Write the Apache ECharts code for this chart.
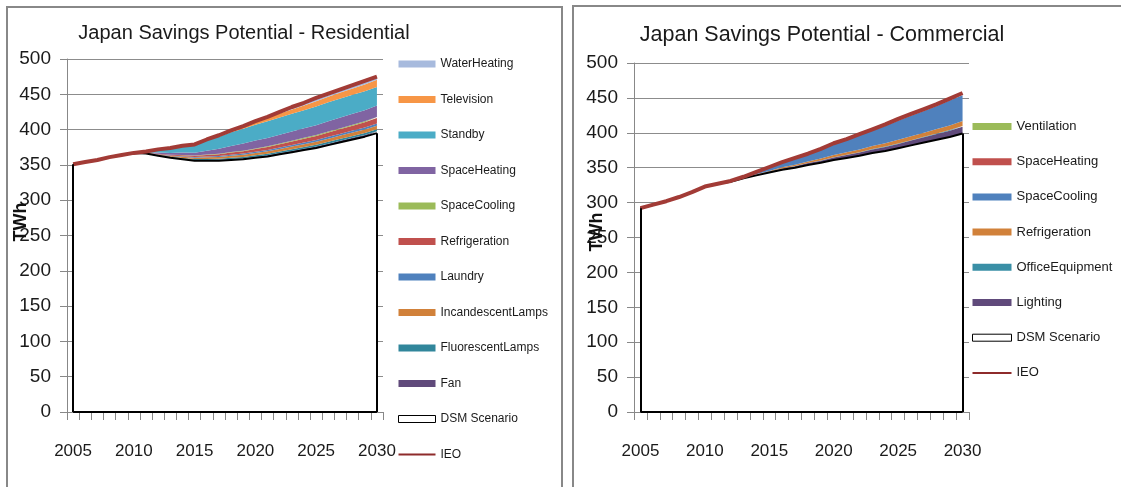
<!DOCTYPE html>
<html>
<head>
<meta charset="utf-8">
<script src="https://cdn.jsdelivr.net/npm/echarts/dist/echarts.min.js"></script>
<style>
	html,body{margin:0;padding:0;background:#fff;}
	.leftpanel{position:absolute;left:0;top:0;width:567px;height:487px;}
	.rightpanel{position:absolute;left:567px;top:0;width:554px;height:487px;}
</style>
</head>
<body>
<div id="reschart" class="leftpanel"></div>
<div id="comchart" class="rightpanel"></div>
<script>
	var years = ['2005','2006','2007','2008','2009','2010','2011','2012','2013','2014','2015','2016','2017',
		'2018','2019','2020','2021','2022','2023','2024','2025','2026','2027','2028','2029','2030'];

	// residential
	var resIEO = [351,354,357,361,364,367,369,372,374,377,379,386,392,399,405,412,418,425,432,438,445,451,457,463,469,475];
	var resDSM = [351,354,357,361,364,367,366,363,360,358,356,356,356,357,358,360,362,365,368,371,374,378,382,386,390,395];
	var resFan = [0,0,0,0,0,0,0.2,0.5,0.7,0.9,1.0,1.1,1.2,1.3,1.4,1.5,1.6,1.7,1.8,1.9,2.0,2.1,2.2,2.3,2.4,2.5];
	var resFluorescent = [0,0,0,0,0,0,0.2,0.5,0.8,1.0,1.2,1.4,1.5,1.7,1.8,2.0,2.1,2.2,2.3,2.4,2.5,2.6,2.7,2.8,2.9,3.0];
	var resIncandescent = [0,0,0,0,0,0,0.3,0.8,1.2,1.6,2.0,2.3,2.6,2.9,3.1,3.3,3.5,3.7,3.9,4.1,4.3,4.5,4.6,4.8,4.9,5.0];
	var resLaundry = [0,0,0,0,0,0,0.1,0.3,0.5,0.7,0.9,1.1,1.3,1.5,1.7,1.9,2.0,2.1,2.2,2.3,2.4,2.5,2.6,2.7,2.8,3.0];
	var resRefrigeration = [0,0,0,0,0,0,0.2,0.6,1.0,1.4,1.8,2.2,2.6,3.0,3.4,3.8,4.2,4.6,5.0,5.4,5.8,6.2,6.6,7.0,7.4,8.0];
	var resSpaceCooling = [0,0,0,0,0,0,0.1,0.2,0.3,0.4,0.4,0.5,0.6,0.7,0.8,0.9,1.0,1.0,1.1,1.2,1.2,1.3,1.3,1.4,1.4,1.5];
	var resSpaceHeating = [0,0,0,0,0,0,0.5,1.5,2.5,3.5,4.0,5.5,7.0,8.5,10.0,11.0,11.8,12.4,13.0,13.5,14.0,14.5,15.0,15.3,15.6,16.0];
	var resStandby = [0,0,0,0,0,0,1.4,4.6,7.0,9.5,11.5,14.5,17.0,19.5,21.0,22.5,23.5,24.5,25.0,25.5,26.5,27.0,27.0,27.0,27.0,26.5];
	var resTelevision = [0,0,0,0,0,0,0,0,0,0,0.4,1.2,2.0,2.8,3.5,4.3,5.0,5.6,6.2,6.8,7.4,8.0,8.5,9.0,9.5,10.0];
	var resWaterHeating = [0,0,0,0,0,0,0,0,0,0,0.2,0.4,0.8,1.2,1.6,2.0,2.2,2.5,2.8,3.0,3.2,3.5,3.8,4.1,4.4,4.6];

	// commercial
	var comIEO = [292,297,302,308,315,323,327,331,337,344,351,358,364,370,377,385,391,398,405,412,420,427,434,441,449,457];
	var comDSM = [292,297,302,308,315,323,327,330,335,339,343,347,350,354,357,361,364,367,371,374,378,382,386,390,394,399];
	var comLighting = [0,0,0,0,0,0,0,0.2,0.3,0.8,1.3,1.8,2.2,2.6,3.1,3.6,4.1,4.6,5.1,5.6,6.1,6.8,7.5,8.2,9.0,9.8];
	var comOffice = [0,0,0,0,0,0,0,0,0.05,0.1,0.15,0.2,0.25,0.3,0.35,0.4,0.45,0.5,0.55,0.6,0.65,0.7,0.75,0.8,0.9,1.0];
	var comRefrigeration = [0,0,0,0,0,0,0,0.1,0.3,0.7,1.0,1.5,1.8,2.1,2.6,3.1,3.5,4.0,4.4,4.8,5.3,5.6,6.0,6.3,6.7,7.0];
	var comSpaceCooling = [0,0,0,0,0,0,0,0.6,1.5,3.1,5.1,7.0,9.1,10.4,13.0,15.4,17.3,20.0,22.0,24.8,27.3,29.3,31.0,33.0,35.5,37.0];
	var comSpaceHeating = [0,0,0,0,0,0,0,0,0.05,0.1,0.15,0.2,0.25,0.3,0.35,0.4,0.45,0.5,0.6,0.7,0.8,0.9,1.0,1.1,1.2,1.3];
	var comVentilation = [0,0,0,0,0,0,0,0.1,0.1,0.2,0.3,0.3,0.4,0.5,0.6,0.7,0.8,0.9,1.0,1.1,1.2,1.3,1.5,1.6,1.7,1.9];

	var fontname = '"Liberation Sans", Arial, sans-serif';
	var ieocolor = '#A23B36';

	function makeoption(cfg){
		var series = [];
		var legenddata = [];
		// DSM scenario: white area with black outline
		series.push({
			name:'DSM Scenario', type:'line', stack:'total', data:cfg.dsm, symbol:'none',
			lineStyle:{color:'#000', width:2}, areaStyle:{color:'#fff', opacity:1},
			itemStyle:{color:'#fff'}, z:2,
			markLine:{
				silent:true, symbol:['none','none'], label:{show:false},
				lineStyle:{color:'#000', width:2, type:'solid'},
				data:[
					[{coord:[years[0],0]},{coord:[years[0],cfg.dsm[0]]}],
					[{coord:[years[years.length-1],0]},{coord:[years[years.length-1],cfg.dsm[cfg.dsm.length-1]]}],
					[{coord:[years[0],0]},{coord:[years[years.length-1],0]}]
				]
			}
		});
		for(var i=0;i<cfg.layers.length;i++){
			var l = cfg.layers[i];
			series.push({
				name:l.name, type:'line', stack:'total', data:l.data, symbol:'none',
				lineStyle:{width:0}, areaStyle:{color:l.color, opacity:1},
				itemStyle:{color:l.color}, z:2
			});
		}
		series.push({
			name:'IEO', type:'line', data:cfg.ieo, symbol:'none',
			lineStyle:{color:ieocolor, width:4}, itemStyle:{color:ieocolor}, z:3
		});
		for(var j=cfg.layers.length-1;j>=0;j--){
			legenddata.push({name:cfg.layers[j].name, itemStyle:{color:cfg.layers[j].color}});
		}
		legenddata.push({name:'DSM Scenario', itemStyle:{color:'#fff', borderColor:'#000', borderWidth:1}});
		legenddata.push({name:'IEO', icon:'path://M0,0L40,0L40,2L0,2Z', itemStyle:{color:'#8E2B2B'}});

		return {
			animation:false,
			backgroundColor:'#fff',
			grid:{left:cfg.grid[0], top:cfg.grid[1], width:cfg.grid[2], height:cfg.grid[3], outerBoundsMode:'none'},
			legend:{
				orient:'vertical', left:cfg.legendpos[0], top:cfg.legendpos[1], padding:0,
				itemWidth:cfg.iconw, itemHeight:7, itemGap:cfg.legendgap, icon:'rect',
				selectedMode:false,
				textStyle:{fontFamily:fontname, fontSize:cfg.legendfont, color:'#1a1a1a'},
				data:legenddata
			},
			xAxis:{
				type:'category', data:years, boundaryGap:true,
				axisLine:{show:true, lineStyle:{color:'#888', width:1}},
				axisTick:{show:true, interval:0, length:8, lineStyle:{color:'#888'}},
				axisLabel:{interval:4, margin:31, fontFamily:fontname, fontSize:cfg.xfont, color:'#1a1a1a'},
				splitLine:{show:false}
			},
			yAxis:{
				type:'value', min:0, max:500, interval:50,
				axisLine:{show:true, lineStyle:{color:'#888', width:1}},
				axisTick:{show:true, length:7, lineStyle:{color:'#888'}},
				axisLabel:{margin:16, fontFamily:fontname, fontSize:cfg.yfont, color:'#1a1a1a'},
				splitLine:{show:true, lineStyle:{color:'#8c8c8c', width:1}}
			},
			graphic:[
				{type:'polyline', shape:{points:cfg.border}, style:{stroke:'#888', lineWidth:2, fill:null}, z:10},
				{type:'text', x:cfg.title[0], y:cfg.title[1], z:10,
					style:{text:cfg.title[2], align:'center', verticalAlign:'middle',
						font:'normal ' + cfg.title[3] + 'px ' + fontname, fill:'#1a1a1a'}},
				{type:'text', x:cfg.unit[0], y:cfg.unit[1], rotation:Math.PI/2, z:10,
					style:{text:'TWh', align:'center', verticalAlign:'middle',
						font:'bold 18px ' + fontname, fill:'#111'}}
			],
			series:series
		};
	}

	var resoption = makeoption({
		dsm:resDSM, ieo:resIEO,
		layers:[
			{name:'Fan', data:resFan, color:'#604A7B'},
			{name:'FluorescentLamps', data:resFluorescent, color:'#31869B'},
			{name:'IncandescentLamps', data:resIncandescent, color:'#D1813A'},
			{name:'Laundry', data:resLaundry, color:'#4F81BD'},
			{name:'Refrigeration', data:resRefrigeration, color:'#C0504D'},
			{name:'SpaceCooling', data:resSpaceCooling, color:'#9BBB59'},
			{name:'SpaceHeating', data:resSpaceHeating, color:'#8064A2'},
			{name:'Standby', data:resStandby, color:'#4BACC6'},
			{name:'Television', data:resTelevision, color:'#F79646'},
			{name:'WaterHeating', data:resWaterHeating, color:'#A7BADD'}
		],
		grid:[67,59,316,353],
		legendpos:[398,58], iconw:37, legendgap:23.5, legendfont:12,
		xfont:17, yfont:19,
		border:[[7,487],[7,7],[562,7],[562,487]],
		title:[244,33,'Japan Savings Potential - Residential',20],
		unit:[21,222]
	});

	var comoption = makeoption({
		dsm:comDSM, ieo:comIEO,
		layers:[
			{name:'Lighting', data:comLighting, color:'#604A7B'},
			{name:'OfficeEquipment', data:comOffice, color:'#3A8FA6'},
			{name:'Refrigeration', data:comRefrigeration, color:'#D1813A'},
			{name:'SpaceCooling', data:comSpaceCooling, color:'#4F81BD'},
			{name:'SpaceHeating', data:comSpaceHeating, color:'#C0504D'},
			{name:'Ventilation', data:comVentilation, color:'#9BBB59'}
		],
		grid:[67,63,335,349],
		legendpos:[405,120], iconw:39, legendgap:22.2, legendfont:13,
		xfont:17, yfont:19,
		border:[[6,487],[6,6],[554,6]],
		title:[255,35,'Japan Savings Potential - Commercial',21.5],
		unit:[30,232]
	});

	var reschart = echarts.init(document.getElementById('reschart'));
	reschart.setOption(resoption);
	var comchart = echarts.init(document.getElementById('comchart'));
	comchart.setOption(comoption);
</script>
</body>
</html>
